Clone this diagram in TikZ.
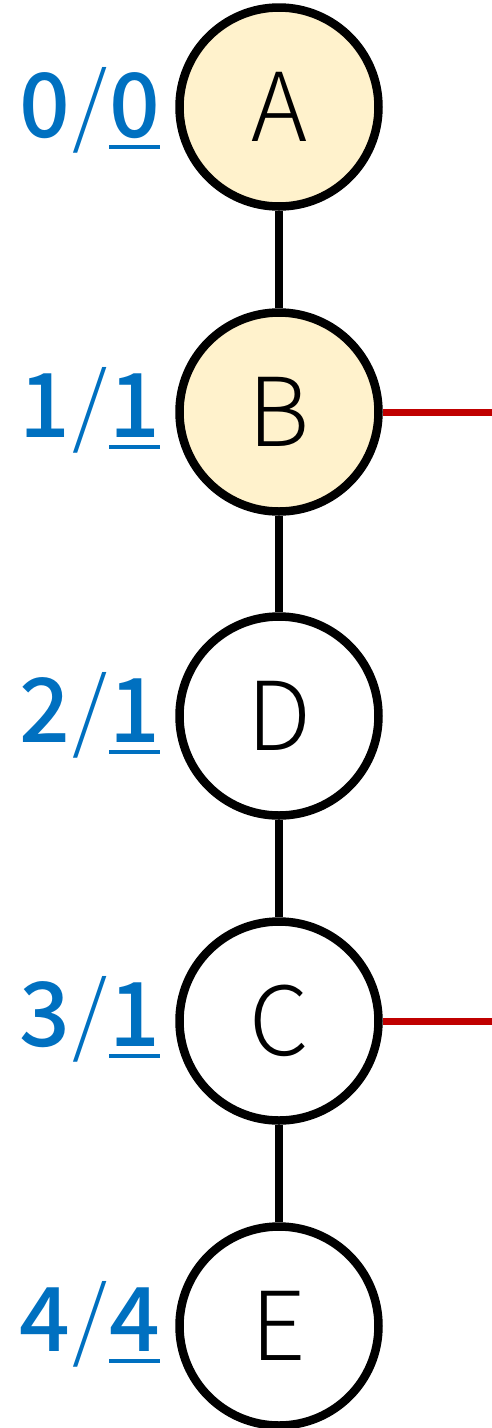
\documentclass[tikz,border=0pt]{standalone}
\usepackage{fontspec}
\setmainfont{Noto Sans CJK JP}
\newfontfamily\lightf{Noto Sans CJK JP Light}
\newfontfamily\medf{Noto Sans CJK JP Medium}
\definecolor{lblblue}{HTML}{0070C0}
\definecolor{nodefill}{HTML}{FFF2CC}
\definecolor{edgered}{HTML}{C00000}
\newcommand\myul[1]{\setbox0\hbox{#1}\rlap{\raisebox{-12pt}{\rule{\wd0}{4.5pt}}}\box0}
\newcommand\lab[2]{{\medf #1}\kern2pt{\lightf /}\kern2pt\myul{\medf #2}}
\tikzset{
  vnode/.style={circle,draw=black,line width=8.5pt,minimum size=199pt,inner sep=0pt,font=\lightf\fontsize{95}{95}\selectfont},
  hl/.style={fill=nodefill},
  lbl/.style={anchor=base east,text=lblblue,inner sep=0pt,font=\fontsize{89}{89}\selectfont},
  tree/.style={line width=8.5pt,draw=black},
  redge/.style={line width=7pt,draw=edgered}
}
\begin{document}
\begin{tikzpicture}[x=1pt,y=-1pt]
\useasboundingbox (0,0) rectangle (492,1428);
\node[vnode,hl] (A) at (279,107) {A};
\node[vnode,hl] (B) at (279,412) {B};
\node[vnode] (D) at (279,716) {D};
\node[vnode] (C) at (279,1021) {C};
\node[vnode] (E) at (279,1326) {E};
\draw[tree] (A) -- (B);
\draw[tree] (B) -- (D);
\draw[tree] (D) -- (C);
\draw[tree] (C) -- (E);
\coordinate (rb) at (492,412);
\coordinate (rc) at (492,1021);
\draw[redge] (B.east) -- (rb);
\draw[redge] (C.east) -- (rc);
\node[lbl] (la) at (160,137) {\lab{0}{0}};
\node[lbl] (lb) at (160,437) {\lab{1}{1}};
\node[lbl] (ld) at (160,742) {\lab{2}{1}};
\node[lbl] (lc) at (160,1046) {\lab{3}{1}};
\node[lbl] (le) at (160,1351) {\lab{4}{4}};
\end{tikzpicture}
\end{document}
